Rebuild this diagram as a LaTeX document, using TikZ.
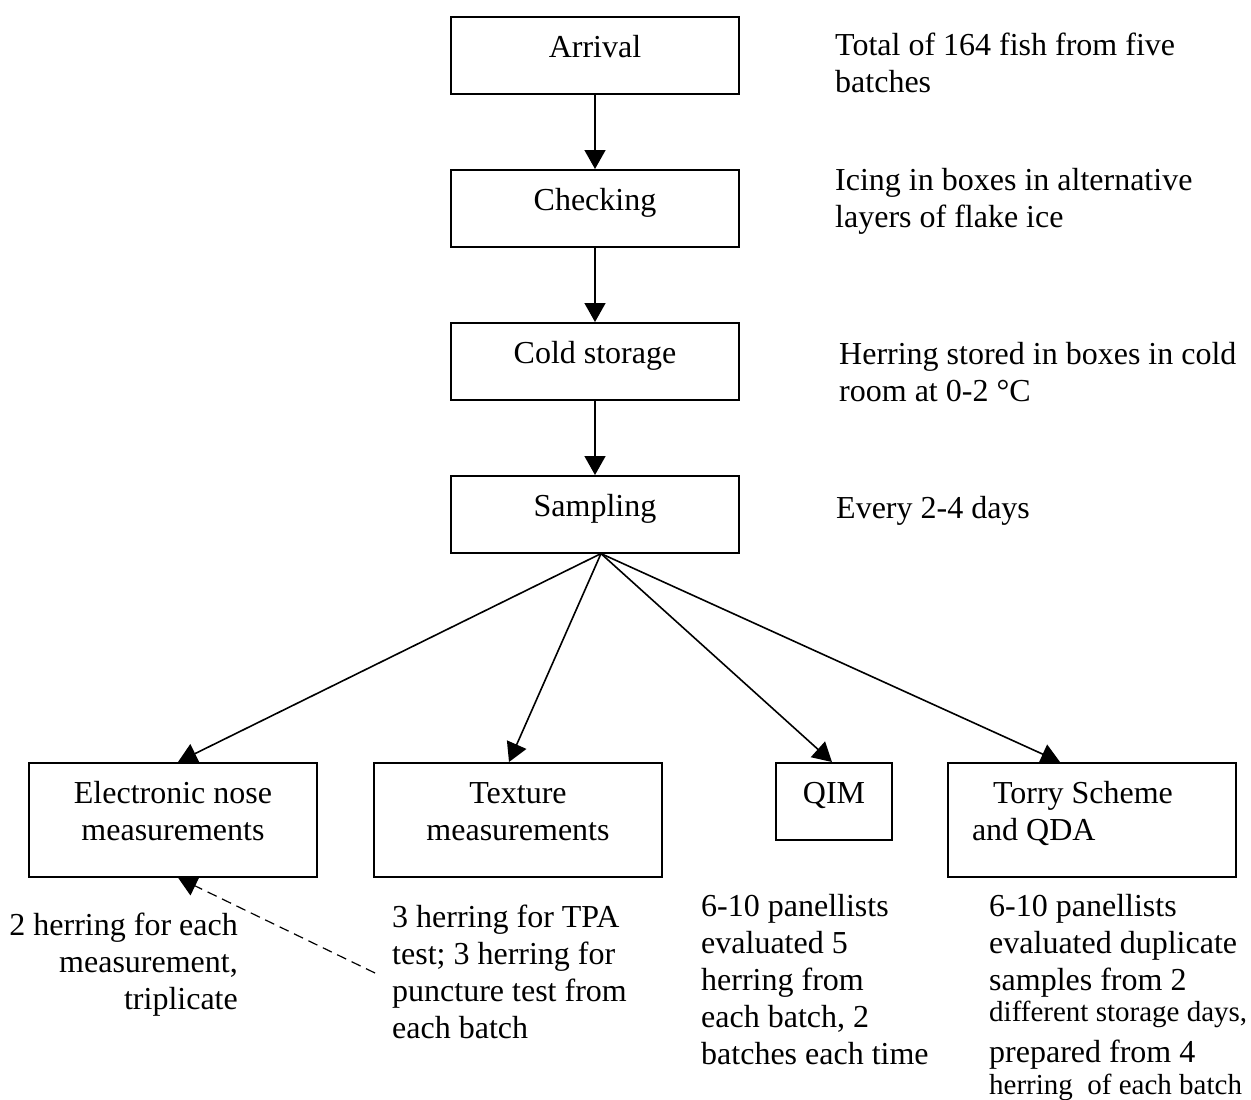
\documentclass[tikz,border=0pt]{standalone}
\usepackage{fontspec}
\setmainfont{Liberation Serif}
\usetikzlibrary{arrows.meta}
\tikzset{
  stage/.style={draw, line width=1.6pt, inner xsep=0pt, inner ysep=0pt, text width=288pt, align=flush center, text height=41pt, text depth=36pt, anchor=north},
  twoline/.style={text depth=73pt},
  note/.style={inner sep=0pt, anchor=base west, text width=420pt, align=flush left},
  link/.style={line width=1.6pt, ->},
}
\newcommand{\smallline}{\fontsize{29pt}{37pt}\selectfont}
\begin{document}
\begin{tikzpicture}[x=1pt, y=-1pt, >={Triangle[length=19pt,width=21pt]}, font=\fontsize{32pt}{37pt}\selectfont]
\useasboundingbox (0,0) rectangle (1251,1100);

% main chain
\node[stage] (arr) at (595,16) {Arrival};
\node[stage] (chk) at (595,169) {Checking};
\node[stage] (cold) at (595,322) {Cold storage};
\node[stage] (samp) at (595,475) {Sampling};
\foreach \a/\b in {arr/chk, chk/cold, cold/samp}
{
    \draw[link] (\a.south) -- (\b.north);
}

\node[note] (arrtxt) at (835,55) {Total of 164 fish from five\\batches};
\node[note] (chktxt) at (835,190) {Icing in boxes in alternative\\layers of flake ice};
\node[note] (coldtxt) at (839,364) {Herring stored in boxes in cold\\room at 0-2 °C};
\node[note] (samptxt) at (836,518) {Every 2-4 days};

% methods
\node[stage, twoline] (nose) at (173,762) {Electronic nose\\measurements};
\node[stage, twoline] (tex) at (518,762) {Texture\\measurements};
\node[stage, text width=116pt] (qim) at (834,762) {QIM};
\node[stage, twoline, align=flush left] (torry) at (1092,762) {\hspace*{45pt}Torry Scheme\\\hspace*{24pt}and QDA};

\coordinate (fan) at ([xshift=6pt]samp.south);
\foreach \t/\s in {nose/5, tex/-9, qim/-2, torry/-32}
{
    \draw[link] (fan) -- ([xshift=\s pt]\t.north);
}

\node[note, anchor=base east, align=flush right, text width=300pt] (nosetxt) at (238,935) {2 herring for each\\measurement,\\triplicate};
\node[note] (textxt) at (392,927) {3 herring for TPA\\test; 3 herring for\\puncture test from\\each batch};
\node[note] (qimtxt) at (701,916) {6-10 panellists\\evaluated 5\\herring from\\each batch, 2\\batches each time};
\node[note] (torrytxt) at (989,916) {6-10 panellists\\evaluated duplicate\\samples from 2\\[-6pt]{\smallline different storage days,}\\[4pt]prepared from 4\\[-5pt]{\smallline herring\ \ of each batch}};

\coordinate (dash) at (375,973);
\draw[link, line width=1.2pt, dash pattern=on 10pt off 6pt] (dash) -- ([xshift=5pt]nose.south);

\end{tikzpicture}
\end{document}
